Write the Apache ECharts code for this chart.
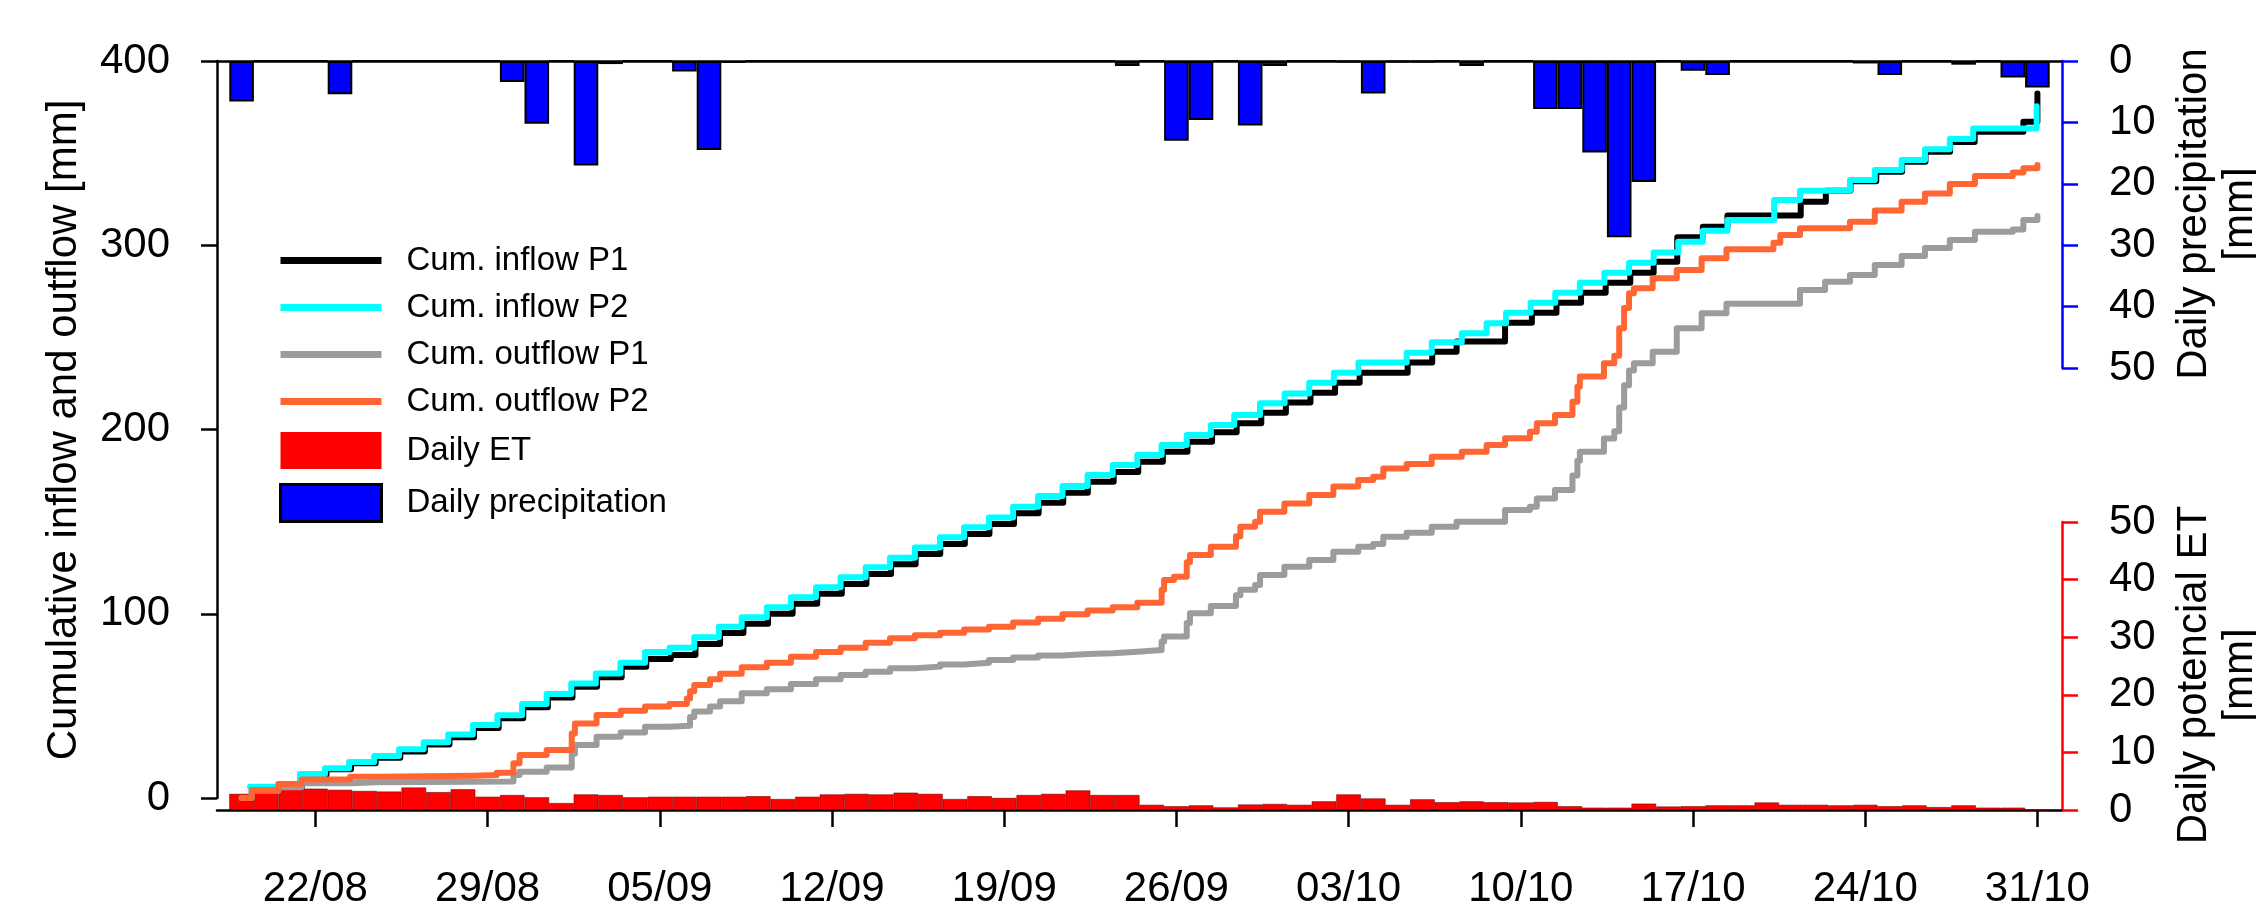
<!DOCTYPE html>
<html><head><meta charset="utf-8">
<script src="https://cdn.jsdelivr.net/npm/echarts@6/dist/echarts.min.js"></script>
<style>html,body{margin:0;padding:0;background:#fff}#c{width:2256px;height:910px}</style>
</head><body><div id="c"></div>
<script>
// x values are days counted from 18/08 (day 0)
const tickDays = [4, 11, 18, 25, 32, 39, 46, 53, 60, 67, 74];
const tickLabels = ['22/08','29/08','05/09','12/09','19/09','26/09','03/10','10/10','17/10','24/10','31/10'];

const barDays = [1,2,3,4,5,6,7,8,9,10,11,12,13,14,15,16,17,18,19,20,21,22,23,24,25,26,27,28,29,30,
  31,32,33,34,35,36,37,38,39,40,41,42,43,44,45,46,47,48,49,50,51,52,53,54,55,56,57,58,59,60,
  61,62,63,64,65,66,67,68,69,70,71,72,73,74];

const dailyPrecip = [6.6,0,0,0,5.4,0,0,0,0,0,
  0,3.4,10.2,0,17.0,0.5,0,0,1.7,14.5,
  0.3,0,0,0,0,0,0,0,0,0,
  0,0,0,0,0,0,0.8,0,13.0,9.6,
  0,10.5,0.8,0,0,0.2,5.3,0.2,0.2,0,
  0.8,0,0,7.8,7.8,14.9,28.7,19.7,0,1.6,
  2.3,0,0,0,0,0,0.4,2.3,0,0,
  0.6,0,2.7,4.3];

const dailyET = [2.8,3.7,4.1,3.7,3.5,3.3,3.2,3.9,3.1,3.6,
  2.3,2.6,2.2,1.2,2.7,2.6,2.2,2.3,2.3,2.3,
  2.3,2.4,1.9,2.3,2.7,2.8,2.7,3.0,2.8,1.9,
  2.4,2.1,2.6,2.8,3.4,2.6,2.6,0.9,0.65,0.8,
  0.45,0.95,1.05,0.9,1.5,2.7,2.0,0.9,1.85,1.35,
  1.5,1.35,1.3,1.4,0.65,0.4,0.4,1.1,0.6,0.65,
  0.8,0.8,1.3,0.9,0.9,0.8,0.9,0.65,0.8,0.5,
  0.8,0.4,0.4,0];

const inflowP1 = [[1.4,6.0],[3.45,12.6],[4.45,15.6],[5.45,18.8],[6.45,21.8],[7.45,25.3],[8.45,29.0],[9.45,33.0],[10.45,38.0],[11.45,43.3],[12.45,49.2],[13.45,54.6],[14.45,60.4],[15.45,65.6],[16.45,71.3],[17.45,75.5],[18.45,77.6],[19.45,83.6],[20.45,89.5],[21.4,94.6],[22.4,100.0],[23.4,105.4],[24.4,110.8],[25.4,116.2],[26.4,121.6],[27.4,126.9],[28.4,132.4],[29.4,137.9],[30.4,143.3],[31.4,148.7],[32.4,154.5],[33.4,160.3],[34.4,165.7],[35.4,171.6],[36.45,177.0],[37.45,182.5],[38.45,187.9],[39.45,193.3],[40.45,198.5],[41.45,203.4],[42.45,209.1],[43.45,214.6],[44.45,220.0],[45.45,225.4],[46.45,230.8],[48.4,236.3],[49.4,242.2],[50.39,247.7],[52.36,257.9],[53.45,263.4],[54.45,268.8],[55.45,274.2],[56.45,279.7],[57.45,285.1],[58.4,291.1],[59.36,304.3],[60.4,310.1],[61.4,316.2],[64.38,323.6],[65.4,329.6],[66.4,334.8],[67.45,339.9],[68.5,345.3],[69.45,350.7],[70.45,356.1],[71.45,361.6],[73.43,367.0],[74.0,382.4]];

const inflowP2 = [[1.34,6.1],[3.37,13.0],[4.39,16.1],[5.37,19.5],[6.39,22.8],[7.4,26.4],[8.4,30.2],[9.4,34.5],[10.4,39.6],[11.4,44.9],[12.4,51.0],[13.4,56.4],[14.4,62.2],[15.4,67.6],[16.4,73.4],[17.4,79.2],[18.4,81.6],[19.4,87.2],[20.4,93.0],[21.33,98.1],[22.35,103.5],[23.33,108.9],[24.35,114.4],[25.35,119.8],[26.37,125.2],[27.36,130.4],[28.37,136.0],[29.39,141.5],[30.37,146.9],[31.38,152.3],[32.36,158.1],[33.38,163.9],[34.37,169.3],[35.39,175.3],[36.41,180.7],[37.41,186.2],[38.4,191.6],[39.42,197.0],[40.4,202.4],[41.35,207.9],[42.4,214.2],[43.4,219.6],[44.4,225.4],[45.4,230.8],[46.4,236.3],[48.36,241.7],[49.38,247.3],[50.6,252.2],[51.61,257.6],[52.4,263.4],[53.4,268.8],[54.4,274.2],[55.4,279.7],[56.4,285.1],[57.4,290.5],[58.4,296.0],[59.4,301.9],[60.4,307.9],[61.4,313.7],[63.3,324.6],[64.35,329.6],[66.38,335.4],[67.39,340.8],[68.48,346.3],[69.43,352.1],[70.44,357.6],[71.39,363.3],[73.97,375.5]];

const outflowP1 = [[1.0,0.0],[1.41,4.0],[2.49,5.8],[3.44,8.0],[5.41,8.6],[6.49,8.9],[12.05,12.5],[12.3,14.3],[13.4,16.6],[14.42,24.0],[14.55,28.8],[15.43,33.3],[16.41,35.5],[17.4,38.7],[18.39,39.2],[19.23,44.0],[19.4,46.9],[20.04,49.6],[20.45,52.5],[21.33,56.8],[22.35,59.0],[23.33,61.9],[24.35,64.4],[25.35,66.8],[26.37,68.5],[27.36,70.4],[28.37,71.3],[29.39,72.5],[30.37,73.4],[31.38,74.9],[32.36,76.2],[33.38,77.4],[34.37,78.2],[35.39,78.5],[36.41,79.4],[37.41,80.3],[38.4,85.0],[38.5,87.6],[39.42,95.0],[39.55,100.3],[40.4,104.2],[41.42,110.0],[41.6,113.0],[42.2,115.6],[42.4,121.0],[43.39,125.5],[44.4,129.2],[45.38,133.7],[46.39,136.4],[47.0,137.9],[47.41,141.8],[48.36,144.0],[49.38,147.2],[50.39,150.0],[52.36,156.3],[53.37,158.1],[53.65,162.6],[54.39,167.2],[55.1,175.0],[55.3,183.0],[55.4,187.9],[56.38,195.1],[56.8,199.0],[57.0,212.0],[57.2,224.0],[57.4,232.0],[57.6,235.9],[58.36,242.2],[59.34,254.9],[60.35,263.1],[61.36,268.3],[64.35,275.7],[65.37,280.2],[66.38,283.9],[67.39,289.3],[68.48,294.2],[69.43,298.5],[70.44,302.8],[71.46,307.3],[73.0,308.5],[73.43,313.7],[74.0,315.9]];

const outflowP2 = [[1.0,0.0],[1.41,4.3],[2.49,7.6],[3.44,10.1],[5.41,11.6],[6.49,12.1],[10.42,12.5],[11.37,13.7],[12.05,18.8],[12.3,23.3],[13.4,26.1],[14.42,35.0],[14.55,40.5],[15.43,45.0],[16.41,47.4],[17.4,49.6],[18.39,51.0],[19.1,54.0],[19.23,58.0],[19.4,61.3],[20.04,64.4],[20.45,67.5],[21.33,70.9],[22.35,73.4],[23.33,76.7],[24.35,79.2],[25.35,81.6],[26.37,84.3],[27.36,86.7],[28.37,88.3],[29.39,89.7],[30.37,91.4],[31.38,93.0],[32.36,95.2],[33.38,97.3],[34.37,99.7],[35.39,101.7],[36.41,103.5],[37.41,106.0],[38.4,113.0],[38.5,118.3],[38.9,120.1],[39.42,128.0],[39.55,131.9],[40.4,136.4],[41.42,142.0],[41.6,147.2],[42.2,150.0],[42.4,155.4],[43.39,159.9],[44.4,164.4],[45.38,169.0],[46.39,172.6],[47.0,174.4],[47.41,178.9],[48.36,181.3],[49.38,185.2],[50.6,187.9],[51.61,191.6],[52.36,195.2],[53.37,198.8],[53.65,203.4],[54.39,207.9],[55.1,215.0],[55.3,223.2],[55.4,228.7],[56.38,235.9],[56.8,240.0],[57.0,255.0],[57.2,266.0],[57.4,274.0],[57.6,276.6],[58.36,282.1],[59.34,286.6],[60.35,292.9],[61.36,297.8],[63.27,301.4],[63.55,305.6],[64.35,309.2],[66.38,312.8],[67.39,318.8],[68.48,323.6],[69.43,328.1],[70.44,333.2],[71.46,337.6],[73.0,339.5],[73.43,341.8],[74.0,343.5]];

const FONT = '"Liberation Sans", Arial, Helvetica, sans-serif';
const chart = echarts.init(document.getElementById('c'), null, {renderer: 'canvas'});

const gridL = 217, gridR = 194;
const LINE_ICON = 'path://M0,0H100V7H0Z';
const lineBase = {type: 'line', xAxisIndex: 1, yAxisIndex: 1, step: 'end', symbol: 'none', showSymbol: false, z: 5};

chart.setOption({
  animation: false,
  backgroundColor: '#ffffff',
  textStyle: {fontFamily: FONT},
  grid: [
    {left: gridL, right: gridR, top: 61, height: 307},
    {left: gridL, right: gridR, top: 61, bottom: 112},
    {left: gridL, right: gridR, top: 522, bottom: 81}
  ],
  xAxis: [
    {gridIndex: 0, type: 'value', min: 0, max: 75, position: 'top',
     axisLine: {show: true, onZero: false, lineStyle: {color: '#000', width: 2.5}},
     axisTick: {show: false}, axisLabel: {show: false}, splitLine: {show: false}},
    {gridIndex: 1, type: 'value', min: 0, max: 75, show: false, splitLine: {show: false}},
    {gridIndex: 2, type: 'value', min: 0, max: 75, position: 'bottom',
     axisLine: {show: true, onZero: false, lineStyle: {color: '#000', width: 2.5}},
     axisTick: {show: true, inside: false, length: 17, customValues: tickDays, lineStyle: {color: '#000', width: 2.5}},
     axisLabel: {show: true, customValues: tickDays, margin: 58, fontSize: 42, color: '#000', fontFamily: FONT,
       formatter: v => tickLabels[tickDays.indexOf(Math.round(v))]},
     splitLine: {show: false}}
  ],
  yAxis: [
    {gridIndex: 0, type: 'value', position: 'right', inverse: true, min: 0, max: 50, interval: 10,
     axisLine: {show: true, onZero: false, lineStyle: {color: '#0000ff', width: 2.5}},
     axisTick: {show: true, inside: false, length: 16, lineStyle: {color: '#0000ff', width: 2.5}},
     axisLabel: {margin: 47, fontSize: 42, color: '#000', fontFamily: FONT},
     splitLine: {show: false}},
    {gridIndex: 1, type: 'value', position: 'left', min: 0, max: 400, interval: 100,
     axisLine: {show: true, onZero: false, lineStyle: {color: '#000', width: 2.5}},
     axisTick: {show: true, inside: false, length: 16, lineStyle: {color: '#000', width: 2.5}},
     axisLabel: {margin: 47, fontSize: 42, color: '#000', fontFamily: FONT},
     splitLine: {show: false}},
    {gridIndex: 2, type: 'value', position: 'right', min: 0, max: 50, interval: 10,
     axisLine: {show: true, onZero: false, lineStyle: {color: '#ff0000', width: 2.5}},
     axisTick: {show: true, inside: false, length: 16, lineStyle: {color: '#ff0000', width: 2.5}},
     axisLabel: {margin: 47, fontSize: 42, color: '#000', fontFamily: FONT},
     splitLine: {show: false}}
  ],
  legend: {
    orient: 'vertical', left: 274, top: 239, itemWidth: 101, itemHeight: 37, itemGap: 14,
    textStyle: {fontSize: 33, color: '#000', fontFamily: FONT, padding: [0, 0, 0, 20]},
    data: [
      {name: 'Cum. inflow P1', icon: LINE_ICON}, {name: 'Cum. inflow P2', icon: LINE_ICON},
      {name: 'Cum. outflow P1', icon: LINE_ICON}, {name: 'Cum. outflow P2', icon: LINE_ICON},
      {name: 'Daily ET', icon: 'rect', itemStyle: {borderWidth: 0}},
      {name: 'Daily precipitation', icon: 'rect', itemStyle: {borderWidth: 3, borderColor: '#000'}}
    ]
  },
  graphic: [
    {type: 'text', x: 64, y: 430, rotation: Math.PI / 2,
     style: {text: 'Cumulative inflow and outflow [mm]', font: '42px ' + FONT, fill: '#000', align: 'center', verticalAlign: 'middle'}},
    {type: 'text', x: 2217, y: 214, rotation: Math.PI / 2,
     style: {text: 'Daily precipitation\n[mm]', font: '42px ' + FONT, fill: '#000', align: 'center', verticalAlign: 'middle', lineHeight: 46}},
    {type: 'text', x: 2217, y: 675, rotation: Math.PI / 2,
     style: {text: 'Daily potencial ET\n[mm]', font: '42px ' + FONT, fill: '#000', align: 'center', verticalAlign: 'middle', lineHeight: 46}}
  ],
  series: [
    {name: 'Daily ET', type: 'bar', xAxisIndex: 2, yAxisIndex: 2, barWidth: '100%', z: 2,
     itemStyle: {color: '#ff0000', borderColor: '#7a0000', borderWidth: 0.6},
     data: barDays.map((d, i) => [d, dailyET[i]])},
    {name: 'Daily precipitation', type: 'bar', xAxisIndex: 0, yAxisIndex: 0, barWidth: '100%', z: 2,
     itemStyle: {color: '#0000ff', borderColor: '#000', borderWidth: 2},
     data: barDays.map((d, i) => [d, dailyPrecip[i]])},
    Object.assign({}, lineBase, {name: 'Cum. inflow P1', data: inflowP1,
      itemStyle: {color: '#000000'}, lineStyle: {color: '#000000', width: 6, cap: 'round', join: 'round'}}),
    Object.assign({}, lineBase, {name: 'Cum. inflow P2', data: inflowP2,
      itemStyle: {color: '#00ffff'}, lineStyle: {color: '#00ffff', width: 6, cap: 'round', join: 'round'}}),
    Object.assign({}, lineBase, {name: 'Cum. outflow P1', data: outflowP1,
      itemStyle: {color: '#9c9c9c'}, lineStyle: {color: '#9c9c9c', width: 6, cap: 'round', join: 'round'}}),
    Object.assign({}, lineBase, {name: 'Cum. outflow P2', data: outflowP2,
      itemStyle: {color: '#ff6633'}, lineStyle: {color: '#ff6633', width: 6, cap: 'round', join: 'round'}})
  ]
});
</script>
</body></html>
